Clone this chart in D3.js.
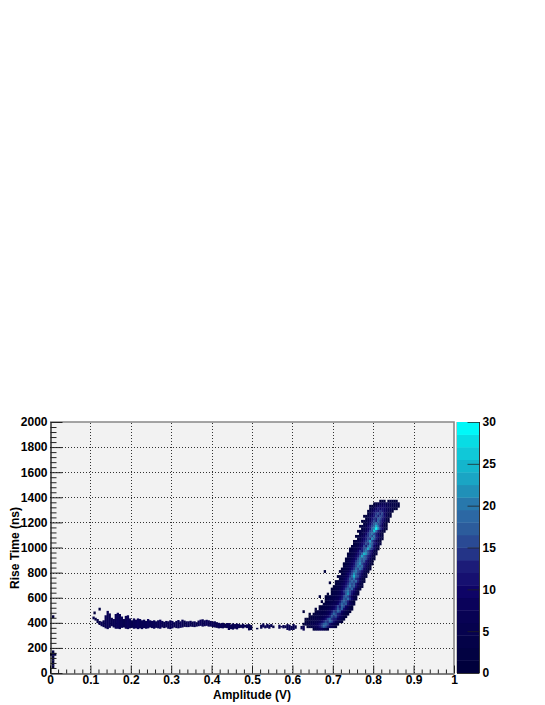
<!DOCTYPE html>
<html><head><meta charset="utf-8">
<script src="https://cdn.jsdelivr.net/npm/d3@7"></script>
<style>html,body{margin:0;padding:0;background:#fff}svg{display:block}text{font-family:"Liberation Sans",Arial,sans-serif;font-weight:bold;fill:#000}</style>
</head><body><svg id="c" width="545" height="705"></svg>
<script>
const xTicks=[0,0.1,0.2,0.3,0.4,0.5,0.6,0.7,0.8,0.9,1];
const yTicks=[0,200,400,600,800,1000,1200,1400,1600,1800,2000];
const zTicks=[0,5,10,15,20,25,30];
const palette=["#00003c","#020242","#040248","#06024e","#080254","#0a025a","#0e0466","#161070","#1c1c78","#243487","#2a4a94","#2c5c9c","#2c68a4","#2878ac","#2090b8","#1aa5c4","#14b5cc","#10c8d8","#08dce4","#00f8f8"];
const binWidth=0.005, rowHeight=20, levelStep=1.5;
// rise-time rows of the steep ridge: rise time, first amplitude bin, counts
const ridgeTimes=[1360,1340,1320,1300,1280,1260,1240,1220,1200,1180,1160,1140,1120,1100,1080,1060,1040,1020,1000,980,960,940,920,900,880,860,840,820,800,780,760,740,720,700,680,660,640,620,600,580,560,540,520,500,480,460,440,420,400,380,360,340];
const ridgeStarts=[163,160,158,158,157,157,155,156,154,155,153,154,152,153,151,152,150,150,149,148,148,147,147,146,146,145,145,144,143,144,142,143,141,141,140,139,139,137,136,136,134,135,133,131,131,128,128,126,126,125,127,130];
const ridgeCounts=[
[1,2,1,0,1,2,2,1,1],
[1,2,4,5,7,6,5,6,4,4,3,3,2],
[1,1,3,5,8,10,8,9,7,6,5,4,3,3,1],
[2,3,6,9,12,9,11,10,8,7,5,4,2,1],
[1,3,6,10,13,11,14,12,9,8,5,3,1],
[2,4,8,12,14,16,13,15,10,7,3,1],
[1,1,3,6,10,13,15,12,16,14,11,7,4,1],
[2,4,7,11,14,12,17,15,13,9,4,2],
[1,2,3,5,8,12,15,13,18,14,11,8,3,1],
[2,4,7,10,14,17,20,16,14,9,4,1],
[1,2,3,5,9,12,15,19,24,18,13,8,4,1],
[2,3,6,10,13,18,22,30,22,14,9,4,1],
[1,2,3,5,8,11,15,17,26,19,12,7,3,1],
[2,4,7,10,14,17,20,16,13,8,4,1],
[1,2,3,6,8,12,14,18,15,20,13,9,5,2],
[2,4,6,9,13,16,14,22,17,13,8,3,1],
[1,2,3,5,8,11,14,17,23,16,12,7,4,1],
[1,2,4,6,9,12,16,14,20,17,13,9,5,2],
[1,2,3,5,8,10,15,13,18,22,15,10,5,2],
[1,1,3,4,6,9,12,16,19,23,17,14,9,4,1],
[2,3,5,7,10,14,12,17,20,16,13,9,4,2],
[1,2,3,5,8,11,14,18,24,21,15,12,8,3,1],
[2,3,5,7,10,13,17,23,18,16,13,9,5,2],
[1,2,3,5,8,11,15,20,17,19,15,11,7,4,1],
[2,3,5,8,10,14,17,20,15,17,11,7,3,1],
[1,2,3,6,8,11,15,18,21,16,13,10,6,2,1],
[2,3,5,7,10,13,16,20,17,19,13,8,4,1],
[1,2,4,5,8,11,14,18,16,20,15,10,6,3,1],
[1,1,3,5,7,10,14,17,20,16,14,11,7,3,1],
[2,4,6,9,12,16,21,17,14,13,8,4,2],
[1,2,3,5,7,10,14,18,24,17,15,11,7,4,1],
[2,4,6,9,13,17,15,20,14,12,8,3,1],
[1,1,3,4,7,9,12,15,18,16,19,13,7,4,1],
[1,3,4,6,8,11,14,19,16,17,12,8,4,2],
[1,2,3,4,7,10,13,16,20,15,17,11,6,3,1],
[1,1,3,4,6,8,11,15,18,16,19,13,8,4,2],
[1,3,4,5,7,10,14,17,20,15,13,9,5,2],
[1,0,2,3,4,5,7,10,13,17,21,15,11,6,3,1],
[1,1,2,3,4,5,6,8,11,15,19,16,12,7,4,2],
[1,2,3,4,5,6,7,9,13,17,15,20,14,10,5,2],
[1,0,1,2,3,4,5,6,8,11,15,19,16,13,7,4,1],
[1,2,3,4,5,6,7,10,14,18,15,17,11,8,5,2],
[1,1,2,3,4,5,6,8,11,15,13,18,15,10,6,3,1],
[1,0,1,2,3,4,5,6,7,9,13,17,14,18,11,8,5,2,1],
[1,2,3,3,4,5,6,8,11,15,14,19,16,10,7,4,2,1],
[1,0,1,2,3,3,4,5,5,7,10,14,18,15,12,11,7,4,2,1],
[1,2,2,3,4,4,5,6,8,10,13,17,14,16,11,8,6,3,1],
[1,1,1,2,3,4,5,5,6,8,11,15,18,14,12,13,8,6,3,1],
[1,2,2,3,4,5,5,7,9,12,16,14,18,15,11,8,5,3,1],
[1,2,3,4,5,5,6,8,11,14,17,19,15,11,8,5,3,1],
[1,2,4,5,6,8,11,14,18,15,12,8,6,3,1],
[1,3,5,7,8,5,3,1]];
// low-amplitude tail: one vertical span per amplitude bin
const tailBins=[21,22,23,24,25,26,27,28,29,30,31,32,33,34,35,36,37,38,39,40,41,42,43,44,45,46,47,48,49,50,51,52,53,54,55,56,57,58,59,60,61,62,63,64,65,66,67,68,69,70,71,72,73,74,75,76,77,78,79,80,81,82,83,84,85,86,87,88,89,90,91,92,93,94,95,96,97,98,99,102,104,105,106,107,108,109,110,113,114,115,116,117,118,119,120,121,124,125];
const tailLow=[430,420,400,385,375,368,358,352,362,375,365,355,355,352,362,365,355,352,358,362,355,358,352,358,352,360,355,358,365,360,355,362,358,355,365,360,365,355,352,358,365,360,358,362,365,370,368,368,372,370,368,372,375,378,372,375,378,372,372,368,365,362,358,360,358,362,360,345,352,348,355,350,360,362,358,365,360,342,345,350,355,365,358,362,355,368,360,355,365,358,360,345,340,345,345,355,350,340];
const tailHigh=[450,440,430,415,410,420,460,495,475,440,430,470,480,470,450,430,455,460,435,420,435,425,435,430,420,425,415,430,420,415,420,412,420,425,415,408,415,412,420,415,405,415,422,412,425,418,412,412,416,410,412,405,418,425,428,420,424,420,415,410,412,405,400,396,400,392,398,398,388,396,390,395,390,385,392,384,388,390,382,360,385,395,380,392,385,390,378,385,375,382,380,390,385,375,390,380,375,375];
const tailCounts=[3,4,4,5,6,5,7,6,7,5,6,7,8,7,6,5,7,8,6,5,6,7,8,7,6,7,6,8,6,7,7,6,7,8,6,5,7,6,7,8,5,6,7,8,6,5,6,7,6,5,6,5,7,8,7,6,8,7,6,7,6,5,6,7,6,5,7,6,7,5,6,7,6,5,7,5,6,5,4,2,5,6,7,6,7,5,4,6,5,6,5,7,6,5,6,4,5,6];
// isolated hits
const strayAmp=[0.0075,0.0075,0.0075,0.0075,0.0075,0.0025,0.0125,0.0075,0.0075,0.1225,0.11,0.6275,0.6675,0.6925,0.68,0.7275,0.7675,0.7675,0.0075];
const strayTime=[40,60,80,100,120,140,140,140,160,500,470,480,600,710,800,860,1100,1120,440];
const strayCount=[1,2,1,2,2,1,1,3,2,2,1,1,1,1,1,1,4,3,1];

const x=d3.scaleLinear().domain([0,1]).range([50,454]);
const y=d3.scaleLinear().domain([0,2000]).range([673,422]);
const z=d3.scaleLinear().domain([0,30]).range([673,422]);
const svg=d3.select("#c");
svg.append("rect").attr("x",x(0)).attr("y",y(2000)).attr("width",x(1)-x(0)).attr("height",y(0)-y(2000)).attr("fill","#f2f2f2");

// grid
const grid=svg.append("g").attr("stroke","#333").attr("stroke-width",1).attr("stroke-dasharray","1 2");
grid.selectAll(".gx").data(xTicks.slice(1,-1)).join("line").attr("x1",d=>Math.round(x(d))+.5).attr("x2",d=>Math.round(x(d))+.5).attr("y1",y(0)).attr("y2",y(2000));
grid.selectAll(".gy").data(yTicks.slice(1,-1)).join("line").attr("y1",d=>Math.round(y(d))+.5).attr("y2",d=>Math.round(y(d))+.5).attr("x1",x(0)).attr("x2",x(1));

// cells
const cells=[];
ridgeTimes.forEach((t,r)=>ridgeCounts[r].forEach((c,k)=>{if(c>0){const a=(ridgeStarts[r]+k)*binWidth;cells.push({a0:a,a1:a+binWidth,t0:t,t1:t+rowHeight,c});}}));
tailBins.forEach((b,i)=>{cells.push({a0:b*binWidth,a1:(b+1)*binWidth,t0:tailLow[i],t1:tailHigh[i],c:tailCounts[i]});});
strayAmp.forEach((a,i)=>{cells.push({a0:a-binWidth/2,a1:a+binWidth/2,t0:strayTime[i],t1:strayTime[i]+rowHeight,c:strayCount[i]});});
const colorOf=c=>palette[Math.min(palette.length-1,Math.floor(c/levelStep))];
const heat=svg.append("g").style("filter","blur(0.5px)");
heat.selectAll("rect").data(cells).join("rect")
 .attr("x",d=>x(d.a0)).attr("width",d=>x(d.a1)-x(d.a0)+.3)
 .attr("y",d=>y(d.t1)).attr("height",d=>y(d.t0)-y(d.t1)+.3)
 .attr("fill",d=>colorOf(d.c));

// frame top/right
svg.append("path").attr("d",`M${x(0)},${y(2000)}H${x(1)}V${y(0)}`).attr("fill","none").attr("stroke","#888").attr("stroke-width",1.6);

// colour bar
const bands=palette.map((_,i)=>i*levelStep);
svg.append("g").selectAll("rect").data(bands).join("rect")
 .attr("x",457).attr("width",22).attr("y",d=>z(d+levelStep)).attr("height",d=>z(d)-z(d+levelStep)+.4)
 .attr("fill",d=>colorOf(d+0.01));
const zg=svg.append("g").attr("transform","translate(479.5,0)").call(d3.axisRight(z).tickValues(zTicks).tickSize(-12).tickPadding(3).tickFormat(d3.format("d")));
zg.select(".domain").attr("stroke","#333").attr("d","M0,422V673");
zg.selectAll(".tick line").attr("stroke","#222").attr("stroke-opacity",.75);
zg.selectAll("text").attr("font-size",12);
svg.append("line").attr("x1",457).attr("x2",479).attr("y1",673.5).attr("y2",673.5).attr("stroke","#333");
svg.append("line").attr("x1",456.5).attr("x2",456.5).attr("y1",422).attr("y2",673).attr("stroke","#aaa").attr("stroke-width",.7);

// axes
const fmtX=d=>d===0?"0":d===1?"1":d3.format(".1f")(d);
const xMinor=d3.range(0,51).map(i=>i/50).filter(v=>Math.abs(v*10-Math.round(v*10))>1e-6);
const yMinor=d3.range(0,51).map(i=>i*40).filter(v=>v%200!==0);
const xg=svg.append("g").attr("transform","translate(0,673.5)");
xg.call(d3.axisBottom(x).tickValues(xTicks).tickSizeInner(-8).tickSizeOuter(0).tickPadding(2).tickFormat(fmtX));
xg.append("g").call(d3.axisBottom(x).tickValues(xMinor).tickSizeInner(-4).tickSizeOuter(0).tickFormat("")).select(".domain").remove();
const yg=svg.append("g").attr("transform","translate(50.5,0)");
yg.call(d3.axisLeft(y).tickValues(yTicks).tickSizeInner(-12).tickSizeOuter(0).tickPadding(3).tickFormat(d3.format("d")));
yg.append("g").call(d3.axisLeft(y).tickValues(yMinor).tickSizeInner(-6).tickSizeOuter(0).tickFormat("")).select(".domain").remove();
[xg,yg].forEach(g=>{g.selectAll("line").attr("stroke","#222");g.selectAll(".domain").attr("stroke","#000").attr("stroke-width",1.2);g.selectAll("text").attr("font-size",12).attr("fill","#000");});

svg.append("text").attr("x",252).attr("y",699).attr("text-anchor","middle").attr("font-size",12).text("Amplitude (V)");
svg.append("text").attr("transform","translate(19,548) rotate(-90)").attr("text-anchor","middle").attr("font-size",12).text("Rise Time (ns)");
</script></body></html>
